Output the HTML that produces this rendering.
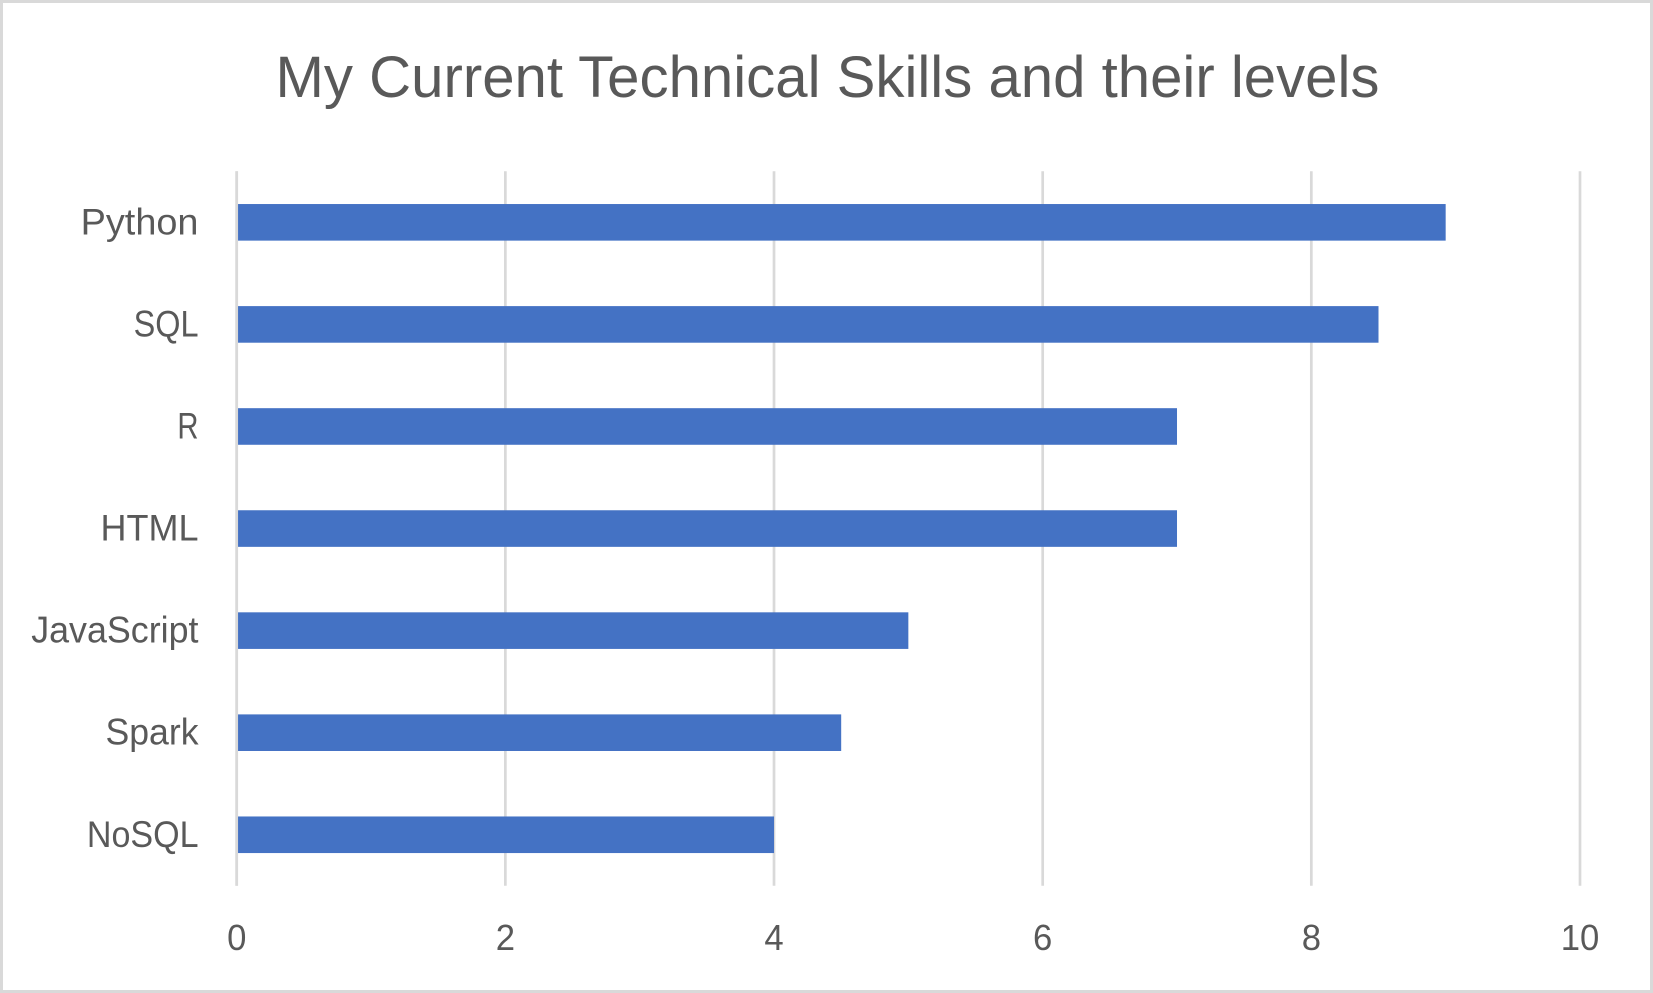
<!DOCTYPE html>
<html lang="en">
<head>
<meta charset="utf-8">
<title>My Current Technical Skills and their levels</title>
<style>
html,body{margin:0;padding:0;background:#fff;width:1653px;height:993px;overflow:hidden}
svg{display:block;font-family:"Liberation Sans",sans-serif}
</style>
</head>
<body>
<svg id="chart" xmlns="http://www.w3.org/2000/svg" width="1653" height="993" viewBox="0 0 1653 993">
  <rect x="1.5" y="1.5" width="1650" height="990" fill="#ffffff" stroke="#d9d9d9" stroke-width="3"/>
  <text x="275.5" y="97" font-size="58" fill="#595959" textLength="1104" lengthAdjust="spacingAndGlyphs">My Current Technical Skills and their levels</text>
  <g id="grid"></g>
  <g id="bars"></g>
  <g id="cats"></g>
  <g id="ticks"></g>
</svg>
<script>
const categories = ["Python", "SQL", "R", "HTML", "JavaScript", "Spark", "NoSQL"];
const skillLevels = [9, 8.5, 7, 7, 5, 4.5, 4];
const xTickLabels = [0, 2, 4, 6, 8, 10];

const NS = "http://www.w3.org/2000/svg";
const plot = { left: 236.7, right: 1580, top: 171.3, bottom: 885.8 };
const xMin = 0;
const xMax = 10;
const barHeight = 36.6;
const tickCondense = 0.95;
const labelFit = { Python: 1.01, SQL: 0.865, R: 0.78, HTML: 0.96, JavaScript: 0.956, Spark: 0.95, NoSQL: 0.908 };

function xScale(v) {
  return plot.left + (v - xMin) / (xMax - xMin) * (plot.right - plot.left);
}
function yCenter(i) {
  return plot.top + (i + 0.5) * (plot.bottom - plot.top) / categories.length;
}
function make(tag, attrs, parent) {
  const el = document.createElementNS(NS, tag);
  for (const k in attrs) el.setAttribute(k, attrs[k]);
  parent.appendChild(el);
  return el;
}

const gridG = document.getElementById("grid");
const barsG = document.getElementById("bars");
const catsG = document.getElementById("cats");
const ticksG = document.getElementById("ticks");

xTickLabels.forEach(function (t) {
  const line = make("line", { x1: xScale(t), x2: xScale(t), y1: plot.top, y2: plot.bottom, stroke: "#d9d9d9", "stroke-width": 2.7 }, gridG);
  
  

  const label = make("text", { "text-anchor": "middle", "font-size": 36.5, fill: "#595959", transform: "translate(" + xScale(t) + " 950) scale(" + tickCondense + " 1)" }, ticksG);
  label.textContent = String(t);
  
  
});

categories.forEach(function (name, i) {
  const bar = make("rect", { x: xScale(0), y: yCenter(i) - barHeight / 2, width: xScale(skillLevels[i]) - xScale(0), height: barHeight, fill: "#4472c4" }, barsG);
  
  

  const fit = labelFit[name] || 0.95;
  const label = make("text", { "text-anchor": "end", "font-size": 37.5, fill: "#595959", transform: "translate(198.5 " + (yCenter(i) + 12) + ") scale(" + fit + " 1)" }, catsG);
  label.textContent = name;
  
  
});

const axisLine = make("line", { x1: xScale(0), x2: xScale(0), y1: plot.top, y2: plot.bottom, stroke: "#d9d9d9", "stroke-width": 2.7 }, barsG);


</script>
</body>
</html>
